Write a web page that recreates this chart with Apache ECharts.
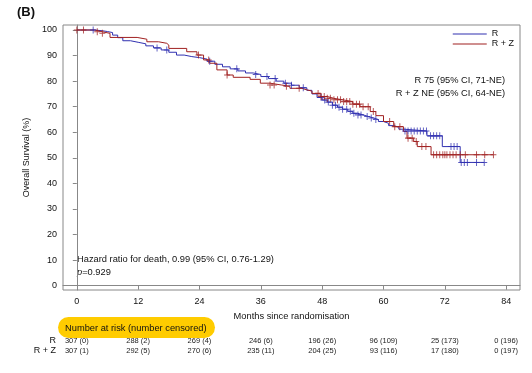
<!DOCTYPE html>
<html><head><meta charset="utf-8">
<script src="https://cdn.jsdelivr.net/npm/echarts@6/dist/echarts.min.js"></script>
<style>html,body{margin:0;padding:0;background:#fff}#c{width:532px;height:373px}</style>
</head><body><div id="c"></div>
<script>
// ---- data ----
const xTicks = [0, 12, 24, 36, 48, 60, 72, 84];
const yTicks = [0, 10, 20, 30, 40, 50, 60, 70, 80, 90, 100];

const timeR = [0, 3.5, 5, 6, 7, 8, 9, 10.5, 12, 13.5, 15, 16.5, 18, 19.5, 21, 22.5, 24, 25.5, 27, 28.5, 30, 31.5, 33, 34.5, 36, 37.5, 39, 40.5, 42, 43.5, 45, 46, 47, 48, 49, 50, 51, 52, 53, 54, 55, 56, 57, 58, 59, 60, 61, 62, 63, 64, 68.5, 71.5, 75, 79.7];
const survR = [100, 99.7, 99.4, 99, 98, 97, 95.8, 95.2, 94.6, 93.8, 93, 92.2, 91.3, 90.2, 89.6, 89.2, 88.6, 87.8, 86.6, 85.6, 84.8, 84.0, 83.2, 82.6, 81.8, 81, 80, 79.2, 78.4, 77.4, 76.4, 75, 73.6, 72.6, 71.8, 70.6, 69.8, 69, 68.2, 67.4, 66.8, 66.2, 65.6, 65, 64.2, 63.5, 62.6, 62, 61.2, 60.5, 58.6, 54.4, 48.2, 48.2];

const timeRZ = [0, 3.5, 5, 6.5, 11.8, 13.7, 16, 17.6, 18, 21.5, 23.5, 24.8, 26, 27.4, 29.4, 30.6, 33.9, 35.9, 37.8, 40, 41.7, 44, 45, 46, 47.6, 49, 50.2, 52, 54, 55.4, 57.4, 58.5, 60, 62, 63.9, 64.6, 65.9, 66.6, 69.3, 81.5];
const survRZ = [100, 99.3, 98.7, 97.1, 96.4, 95.4, 94.8, 94.1, 92.8, 91.5, 90.2, 88.3, 87, 84.4, 82.4, 81.5, 80.7, 79.2, 78.5, 78, 77.2, 76.6, 76.1, 75.2, 74, 73.3, 72.7, 72, 71, 70, 68.1, 66.5, 64.2, 62.2, 60.3, 57.7, 56.4, 54.4, 51.2, 51.2];

const censorR = [3.2, 15.7, 17.6, 26, 31.3, 35, 37.2, 38.8, 40.8, 42, 44.3, 47.8, 48.5, 49.2, 50, 50.6, 51.3, 52, 52.8, 53.5, 54.2, 55, 55.6, 56.8, 57.6, 58.5, 64.2, 64.8, 65.4, 66, 66.6, 67.2, 67.8, 68.4, 69.2, 69.8, 70.4, 71, 73.2, 73.8, 74.4, 75.2, 75.8, 76.4, 78.2, 79.7];
const censorRZ = [0, 1.3, 4, 5, 23.8, 25.8, 29.4, 37.8, 38.6, 41, 43.5, 47.2, 47.8, 48.4, 49, 49.6, 50.3, 51, 51.6, 52.2, 52.8, 53.4, 54, 54.7, 55.3, 56, 57, 58, 61.2, 62.2, 63.2, 64.8, 65.6, 66.4, 67.5, 68.3, 69.8, 70.4, 71, 71.6, 72, 72.4, 73, 73.6, 74.2, 75, 76, 78.2, 79.8, 81.5];

const riskR = ['307 (0)', '288 (2)', '269 (4)', '246 (6)', '196 (26)', '96 (109)', '25 (173)', '0 (196)'];
const riskRZ = ['307 (1)', '292 (5)', '270 (6)', '235 (11)', '204 (25)', '93 (116)', '17 (180)', '0 (197)'];

const colR = '#3030b0';
const colRZ = '#a02020';
const FONT = '"Liberation Sans", Arial, sans-serif';
const FS = 9.3;

function pairs(t, s) { return t.map((v, i) => [v, s[i]]); }
function stepAt(t, s, x) { let v = s[0]; for (let i = 0; i < t.length; i++) { if (t[i] <= x) v = s[i]; } return v; }
function censorPts(ct, t, s) { return ct.map(x => [x, stepAt(t, s, x)]); }

const plusPath = 'path://M5,0L5,10M0,5L10,5';

const chart = echarts.init(document.getElementById('c'), null, { renderer: 'canvas' });
chart.setOption({
  animation: false,
  textStyle: { fontFamily: FONT },
  grid: { left: 63, right: 12, top: 25, bottom: 83, show: true, borderColor: '#888', borderWidth: 1 },
  xAxis: {
    type: 'value', min: -2.7, max: 86.7,
    name: 'Months since randomisation', nameLocation: 'middle', nameGap: 22,
    nameTextStyle: { fontSize: FS, color: '#111', fontFamily: FONT },
    axisLine: { lineStyle: { color: '#888' } },
    axisTick: { show: true, length: 4, lineStyle: { color: '#888' }, customValues: xTicks },
    axisLabel: { fontSize: 9, color: '#111', margin: 7, customValues: xTicks, fontFamily: FONT },
    splitLine: { show: false }
  },
  yAxis: {
    type: 'value', min: -1.7, max: 101.96,
    name: 'Overall Survival (%)', nameLocation: 'middle', nameGap: 28,
    nameTextStyle: { fontSize: 9, color: '#111', fontFamily: FONT },
    axisLine: { show: true, lineStyle: { color: '#888' } },
    axisTick: { show: true, length: 4, lineStyle: { color: '#888' }, customValues: yTicks },
    axisLabel: { fontSize: 9, color: '#111', margin: 6, customValues: yTicks, fontFamily: FONT },
    splitLine: { show: false }
  },
  legend: {
    data: ['R', 'R + Z'], orient: 'vertical', right: 18, top: 29, padding: 0,
    icon: 'rect', itemWidth: 34, itemHeight: 1, itemGap: 0,
    textStyle: { fontSize: 9, color: '#111', lineHeight: 10, fontFamily: FONT },
    selectedMode: false
  },
  series: [
    { name: 'R', type: 'line', step: 'end', data: pairs(timeR, survR), showSymbol: false, lineStyle: { color: colR, width: 1 }, itemStyle: { color: colR }, z: 3 },
    { name: 'R + Z', type: 'line', step: 'end', data: pairs(timeRZ, survRZ), showSymbol: false, lineStyle: { color: colRZ, width: 1 }, itemStyle: { color: colRZ }, z: 3 },
    { name: 'R cens', type: 'scatter', data: censorPts(censorR, timeR, survR), symbol: plusPath, symbolSize: [6, 7], itemStyle: { color: 'none', borderColor: colR, borderWidth: 1 }, z: 4 },
    { name: 'R + Z cens', type: 'scatter', data: censorPts(censorRZ, timeRZ, survRZ), symbol: plusPath, symbolSize: [6, 7], itemStyle: { color: 'none', borderColor: colRZ, borderWidth: 1 }, z: 4 }
  ]
});

const F = FS + 'px ' + FONT;
const g = [
  { type: 'text', left: 17, top: 6, style: { text: '(B)', font: 'bold 13px ' + FONT, fill: '#111' } },
  { type: 'text', right: 27, top: 76, style: { text: 'R 75 (95% CI, 71-NE)', font: F, fill: '#111', textAlign: 'right' } },
  { type: 'text', right: 27, top: 89, style: { text: 'R + Z NE (95% CI, 64-NE)', font: F, fill: '#111', textAlign: 'right' } },
  { type: 'text', left: 77, top: 255, style: { text: 'Hazard ratio for death, 0.99 (95% CI, 0.76-1.29)', font: F, fill: '#111' } },
  { type: 'text', left: 77, top: 268, style: { rich: { i: { fontStyle: 'italic', fontSize: FS, fontFamily: FONT }, n: { fontSize: FS, fontFamily: FONT } }, text: '{i|p}{n|=0.929}', fill: '#111' } },
  { type: 'rect', left: 58, top: 317, shape: { width: 157, height: 21, r: 10.5 }, style: { fill: '#ffcc00' } },
  { type: 'text', left: 65, top: 324, style: { text: 'Number at risk (number censored)', font: F, fill: '#111' } },
  { type: 'text', x: 56, y: 341, style: { text: 'R', font: '9px ' + FONT, fill: '#111', align: 'right', verticalAlign: 'middle' } },
  { type: 'text', x: 56, y: 351, style: { text: 'R + Z', font: '9px ' + FONT, fill: '#111', align: 'right', verticalAlign: 'middle' } }
];
xTicks.forEach((t, i) => {
  const px = chart.convertToPixel({ xAxisIndex: 0 }, t);
  g.push({ type: 'text', x: px, y: 341, style: { text: riskR[i], font: '7.5px ' + FONT, fill: '#222', align: 'center', verticalAlign: 'middle' } });
  g.push({ type: 'text', x: px, y: 351, style: { text: riskRZ[i], font: '7.5px ' + FONT, fill: '#222', align: 'center', verticalAlign: 'middle' } });
});
chart.setOption({ graphic: g });
</script></body></html>
